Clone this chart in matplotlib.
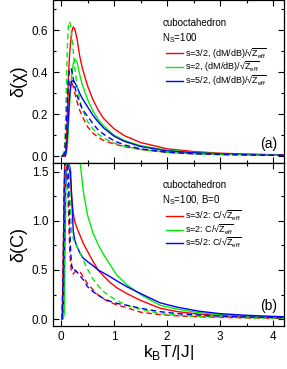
import matplotlib
matplotlib.use("Agg")
import matplotlib.pyplot as plt
from matplotlib.ticker import MultipleLocator, FormatStrFormatter

plt.rcParams["font.family"] = ["Liberation Sans", "DejaVu Sans"]
plt.rcParams["mathtext.fontset"] = "custom"
plt.rcParams["mathtext.rm"] = "Liberation Sans"

# --- panel (a): delta(chi) ---
T_chi = [0.02, 0.06, 0.08, 0.1, 0.12, 0.14, 0.16, 0.18, 0.2, 0.23, 0.26, 0.3, 0.35,
         0.4, 0.5, 0.6, 0.7, 0.8, 1.0, 1.2, 1.5, 2.0, 2.5, 3.0, 3.5, 4.0, 4.2]
chi_s32 = [0, 0, 0.005, 0.04, 0.2, 0.38, 0.48, 0.54, 0.59, 0.615, 0.605, 0.56, 0.48,
           0.42, 0.335, 0.27, 0.22, 0.18, 0.13, 0.097, 0.065, 0.035, 0.022, 0.014, 0.010, 0.007, 0.006]
chi_s2 = [0, 0, 0, 0.01, 0.05, 0.14, 0.24, 0.32, 0.38, 0.44, 0.46, 0.45, 0.39,
          0.34, 0.27, 0.215, 0.175, 0.145, 0.1, 0.074, 0.05, 0.028, 0.018, 0.012, 0.008, 0.006, 0.005]
chi_s52 = [0, 0, 0, 0.03, 0.1, 0.2, 0.28, 0.33, 0.355, 0.36, 0.35, 0.33, 0.3,
           0.275, 0.235, 0.195, 0.163, 0.135, 0.095, 0.07, 0.046, 0.025, 0.016, 0.011, 0.008, 0.006, 0.005]
chi_s32_d = [0, 0, 0.02, 0.08, 0.2, 0.3, 0.35, 0.36, 0.355, 0.33, 0.3, 0.26, 0.22,
             0.19, 0.14, 0.11, 0.09, 0.075, 0.058, 0.045, 0.032, 0.018, 0.011, 0.008, 0.006, 0.004, 0.004]
chi_s2_d = [0, 0.02, 0.12, 0.33, 0.52, 0.63, 0.64, 0.62, 0.58, 0.5, 0.42, 0.34, 0.27,
            0.225, 0.165, 0.13, 0.105, 0.087, 0.062, 0.047, 0.032, 0.018, 0.011, 0.008, 0.006, 0.004, 0.004]
chi_s52_d = [0, 0.01, 0.05, 0.15, 0.28, 0.37, 0.41, 0.42, 0.41, 0.37, 0.33, 0.29, 0.255,
             0.225, 0.19, 0.155, 0.125, 0.105, 0.073, 0.053, 0.035, 0.019, 0.012, 0.008, 0.006, 0.004, 0.004]

# --- panel (b): delta(C) ---
T_c = [0.02, 0.04, 0.06, 0.08, 0.1, 0.12, 0.14, 0.16, 0.18, 0.2, 0.23, 0.26, 0.3, 0.36,
       0.42, 0.5, 0.6, 0.7, 0.8, 0.93, 1.05, 1.24, 1.5, 1.87, 2.2, 2.6, 3.0, 3.5, 4.0, 4.2]
c_s32 = [0, 0.6, 1.4, 1.8, 1.9, 1.85, 1.7, 1.52, 1.4, 1.25, 1.08, 0.99, 0.93, 0.85,
         0.77, 0.69, 0.59, 0.5, 0.44, 0.37, 0.32, 0.26, 0.19, 0.11, 0.075, 0.05, 0.035, 0.025, 0.018, 0.016]
c_s2 = [0, 0, 0.05, 0.8, 1.7, 2.2, 2.4, 2.5, 2.5, 2.4, 2.2, 2.0, 1.8, 1.6,
        1.3, 1.06, 0.88, 0.76, 0.66, 0.55, 0.45, 0.35, 0.25, 0.14, 0.1, 0.065, 0.045, 0.03, 0.02, 0.018]
c_s52 = [0, 0.1, 0.7, 1.3, 1.52, 1.56, 1.57, 1.56, 1.5, 1.25, 0.9, 0.8, 0.74, 0.67,
         0.62, 0.585, 0.545, 0.5, 0.47, 0.43, 0.39, 0.33, 0.26, 0.165, 0.12, 0.08, 0.055, 0.038, 0.027, 0.024]
c_s32_d = [0, 0.4, 1.2, 1.6, 1.7, 1.5, 1.1, 0.75, 0.55, 0.47, 0.46, 0.48, 0.49, 0.48,
           0.43, 0.36, 0.3, 0.245, 0.205, 0.17, 0.145, 0.115, 0.07, 0.045, 0.032, 0.023, 0.017, 0.012, 0.009, 0.008]
c_s2_d = [0, 0.1, 0.6, 1.3, 1.7, 1.8, 1.7, 1.4, 1.1, 0.9, 0.82, 0.78, 0.74, 0.67,
          0.6, 0.51, 0.41, 0.34, 0.28, 0.23, 0.19, 0.14, 0.1, 0.055, 0.038, 0.027, 0.02, 0.014, 0.01, 0.009]
c_s52_d = [0, 0.5, 1.3, 1.7, 1.8, 1.7, 1.4, 1.0, 0.7, 0.55, 0.49, 0.5, 0.48, 0.44,
           0.4, 0.33, 0.28, 0.245, 0.21, 0.18, 0.16, 0.14, 0.11, 0.075, 0.055, 0.04, 0.03, 0.021, 0.016, 0.014]

spins = ["s=3/2", "s=2", "s=5/2"]
# radical sign as a glyph, bar over Z_eff drawn by mathtext (keeps rows short)
sqz = "√" + r"$\overline{\mathrm{Z}_{\mathrm{eff}}}$"
labels_a = [s + ", (dM/dB)/" + sqz for s in spins]
labels_b = [s + ": C/" + sqz for s in spins]

COLORS = ["#ff0000", "#00ee00", "#0000ff"]
DASH = (0, (4, 2.5))

fig = plt.figure(figsize=(2.87, 3.69), dpi=100)
ax1 = fig.add_axes([0.185, 0.558, 0.805, 0.442])
ax2 = fig.add_axes([0.185, 0.1165, 0.805, 0.4415])

for y, c in zip([chi_s32, chi_s2, chi_s52], COLORS):
    ax1.plot(T_chi, y, color=c, lw=1.0)
for y, c in zip([chi_s32_d, chi_s2_d, chi_s52_d], COLORS):
    ax1.plot(T_chi, y, color=c, lw=1.0, ls=DASH)

for y, c in zip([c_s32, c_s2, c_s52], COLORS):
    ax2.plot(T_c, y, color=c, lw=1.0)
for y, c in zip([c_s32_d, c_s2_d, c_s52_d], COLORS):
    ax2.plot(T_c, y, color=c, lw=1.0, ls=DASH)

for ax in (ax1, ax2):
    ax.set_xlim(-0.15, 4.21)
    ax.xaxis.set_major_locator(MultipleLocator(1))
    ax.xaxis.set_minor_locator(MultipleLocator(0.5))
    ax.yaxis.set_major_formatter(FormatStrFormatter("%.1f"))
    ax.tick_params(which="both", direction="in", top=True, right=True, labelsize=8.5)
    ax.tick_params(which="major", length=4.5, width=0.8)
    ax.tick_params(which="minor", length=2.5, width=0.8)
    for sp in ax.spines.values():
        sp.set_linewidth(0.9)

ax1.set_ylim(-0.033, 0.743)
ax1.yaxis.set_major_locator(MultipleLocator(0.2))
ax1.yaxis.set_minor_locator(MultipleLocator(0.1))
ax1.tick_params(labelbottom=False)

ax2.set_ylim(-0.071, 1.589)
ax2.yaxis.set_major_locator(MultipleLocator(0.5))
ax2.yaxis.set_minor_locator(MultipleLocator(0.25))

ax1.set_ylabel("δ(χ)", fontsize=13, labelpad=3)
ax2.set_ylabel("δ(C)", fontsize=13, labelpad=3)
ax2.set_xlabel(r"k$_{\mathrm{B}}$T/|J|", fontsize=12.5, labelpad=0)

# annotations
ax1.text(0.472, 0.859, "cuboctahedron", transform=ax1.transAxes, fontsize=7, va="center")
ax1.text(0.472, 0.767, r"N$_{\mathrm{S}}$=100", transform=ax1.transAxes, fontsize=7, va="center")
ax1.text(0.97, 0.117, "(a)", transform=ax1.transAxes, fontsize=10, ha="right", va="center")
ax2.text(0.472, 0.865, "cuboctahedron", transform=ax2.transAxes, fontsize=7, va="center")
ax2.text(0.472, 0.774, r"N$_{\mathrm{S}}$=100, B=0", transform=ax2.transAxes, fontsize=7, va="center")
ax2.text(0.97, 0.123, "(b)", transform=ax2.transAxes, fontsize=10, ha="right", va="center")

# hand placed legends (rows sit closer than ax.legend allows)
rows_a = [0.672, 0.589, 0.506]
rows_b = [0.676, 0.592, 0.510]
for ax, rows, labels in ((ax1, rows_a, labels_a), (ax2, rows_b, labels_b)):
    for yr, lab, c in zip(rows, labels, COLORS):
        ax.plot([0.489, 0.563], [yr, yr], color=c, lw=1.0, transform=ax.transAxes)
        ax.text(0.571, yr, lab, transform=ax.transAxes, fontsize=6.5, va="center")

fig.savefig("out.png", dpi=100)
plt.close(fig)
